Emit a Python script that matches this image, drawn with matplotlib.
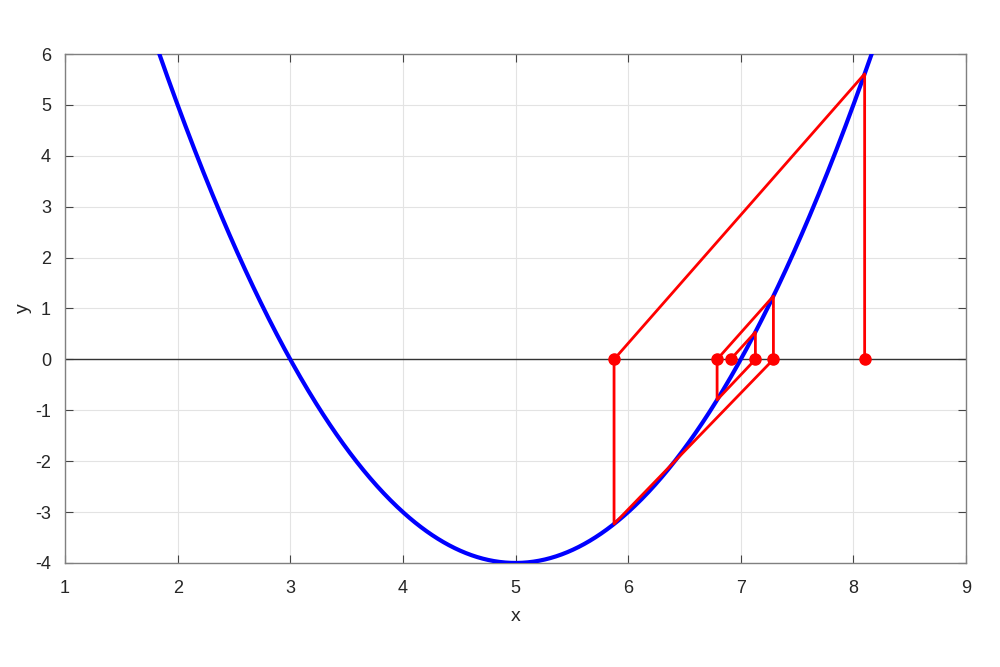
import numpy as np
import matplotlib
matplotlib.use("Agg")
import matplotlib.pyplot as plt

plt.rcParams['font.family'] = ['Liberation Sans', 'DejaVu Sans']
plt.rcParams['axes.unicode_minus'] = False

# parabola coefficients f(x) = a*x^2 + b*x + c
coef_a, coef_b, coef_c = 1.0, -10.0, 21.0
curve_x = np.linspace(1, 9, 801)
curve_y = coef_a * curve_x**2 + coef_b * curve_x + coef_c

# iteration path
path_x = [8.10, 8.10, 5.875, 5.875, 7.29, 7.29, 6.79, 6.79, 7.13, 7.13, 6.91]
path_y = [0.0, 5.61, 0.0, -3.234, 0.0, 1.244, 0.0, -0.796, 0.0, 0.537, 0.0]
dots_x = [8.10, 5.875, 7.29, 6.79, 7.13, 6.91]
dots_y = [0.0, 0.0, 0.0, 0.0, 0.0, 0.0]

x_ticks = [1, 2, 3, 4, 5, 6, 7, 8, 9]
y_ticks = [-4, -3, -2, -1, 0, 1, 2, 3, 4, 5, 6]

fig = plt.figure(figsize=(10, 6.67), dpi=100)
ax = fig.add_axes([0.065, 0.156, 0.901, 0.763])

ax.axhline(0, color='#333333', lw=1.0, zorder=2)
ax.plot(curve_x, curve_y, color='#0000ff', lw=3, zorder=3)
ax.plot(path_x, path_y, color='#ff0000', lw=2, zorder=4)
ax.plot(dots_x, dots_y, 'o', color='#ff0000', ms=8, zorder=5)

ax.set_xlim(1, 9)
ax.set_ylim(-4, 6)
ax.set_xticks(x_ticks)
ax.set_yticks(y_ticks)
ax.grid(True, color='#e3e3e3', lw=0.8)
ax.set_axisbelow(True)
for s in ax.spines.values():
    s.set_color('#808080')
    s.set_linewidth(1.0)
ax.tick_params(direction='in', length=6, color='#444444', labelcolor='#262626',
               labelsize=13, top=True, right=True)
ax.tick_params(axis='x', pad=12)
ax.tick_params(axis='y', pad=10)
ax.set_xlabel('x', fontsize=14, color='#262626', labelpad=8)
ax.set_ylabel('y', fontsize=14, color='#262626', labelpad=2)

fig.savefig('out.png', dpi=100)
